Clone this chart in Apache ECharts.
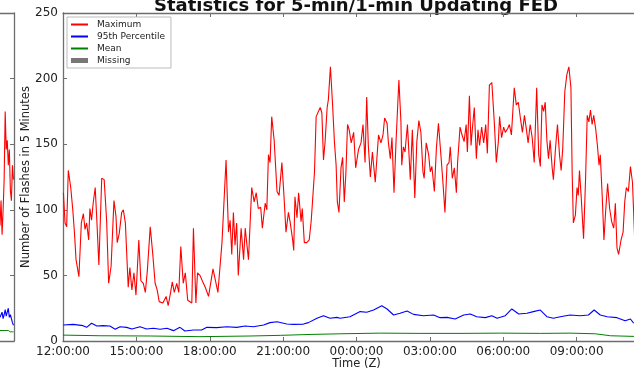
<!DOCTYPE html>
<html><head><meta charset="utf-8">
<script src="https://cdn.jsdelivr.net/npm/echarts@6/dist/echarts.min.js"></script>
<style>html,body{margin:0;padding:0;background:#fff}#c{width:634px;height:370px}</style>
</head><body><div id="c"></div>
<script>
// ---- data (minutes after 12:00Z) ----
const xTickLabels = ['12:00:00','15:00:00','18:00:00','21:00:00','00:00:00','03:00:00','06:00:00','09:00:00','12:00:00'];
const yTicks = [0, 50, 100, 150, 200, 250];
const seriesNames = ['Maximum', '95th Percentile', 'Mean', 'Missing'];

const maxMinutes = [1,5,9,13,19,24,28,32,39,45,50,54,58,63,66,70,74,79,83,88,95,101,107,112,118,125,130,133,138,144,148,153,160,164,169,174,179,186,191,197,202,207,214,220,226,231,236,245,253,258,264,268,273,279,284,289,295,300,306,316,320,326,330,336,343,349,357,368,380,390,400,406,410,414,418,422,426,430,437,443,447,455,463,469,474,479,485,489,496,500,504,508,512,518,525,530,537,542,547,553,557,563,566,569,574,578,584,587,592,598,604,609,612,617,621,625,631,635,639,643,648,651,656,661,666,670,673,677,682,686,690,694,698,702,707,713,718,725,731,736,741,745,749,754,759,766,774,780,785,789,795,798,803,807,812,817,824,829,831,835,839,845,852,857,863,868,873,878,883,886,891,897,901,905,911,916,921,927,932,937,942,947,950,955,960,965,968,974,979,984,989,992,997,1001,1004,1009,1014,1018,1022,1027,1032,1037,1041,1046,1052,1058,1063,1068,1071,1076,1081,1085,1091,1095,1100,1107,1112,1117,1122,1127,1132,1136,1141,1146,1151,1156,1162,1167,1171,1175,1179,1183,1187,1191,1195,1200,1203,1208,1213,1218,1222,1226,1231,1236,1241,1246,1249,1252,1257,1261,1264,1267,1271,1277,1282,1286,1290,1294,1298,1302,1307,1311,1315,1318,1323,1327,1331,1336,1341,1346,1351,1355,1359,1363,1369,1374,1378,1382,1387,1392,1397,1402];
const maxValues = [113,90,87,130,117,100,83,62,49,90,97,85,90,77,101,92,105,117,92,58,124,123,92,44,57,107,95,75,82,98,100,90,41,56,39,52,35,77,46,44,37,54,87,67,44,39,30,29,34,27,37,45,37,44,37,72,44,52,31,29,86,29,52,50,45,41,34,55,37,75,138,83,92,66,98,73,90,50,86,62,86,62,117,106,113,101,102,86,105,100,142,136,171,153,114,111,136,111,83,98,91,78,69,110,94,113,91,101,75,75,77,92,106,129,171,170,178,174,138,152,178,184,209,182,151,134,106,98,132,140,106,128,165,161,151,159,132,146,151,165,136,186,149,125,144,121,157,151,157,170,166,152,139,155,113,152,199,167,134,148,144,165,123,161,109,152,168,159,129,124,151,142,129,133,114,147,166,142,121,98,134,136,148,124,132,113,136,163,157,152,165,144,187,149,161,178,139,161,149,163,151,165,143,195,197,167,136,152,171,155,163,159,162,165,157,193,180,182,170,159,172,163,151,165,155,136,193,142,133,180,175,182,153,139,153,132,123,146,165,142,130,147,190,203,209,193,129,90,96,117,111,130,111,78,124,172,167,176,165,172,161,149,134,142,109,77,98,120,101,91,86,105,71,66,77,83,106,117,114,133,121,81];

const p95Minutes = [1,25,49,58,70,83,98,115,128,140,156,169,189,205,222,238,255,271,287,299,320,340,353,377,402,426,447,467,492,508,525,549,565,590,602,623,639,655,672,680,704,729,745,762,782,795,811,827,844,860,884,909,925,942,962,983,999,1015,1036,1052,1065,1085,1101,1118,1138,1154,1171,1187,1203,1220,1244,1269,1289,1303,1318,1335,1359,1379,1392,1400];
const p95Values = [12.2,12.7,11.7,10.4,13.5,11.4,11.7,11.4,8.9,10.9,10.4,9.1,10.9,9.1,9.7,8.9,9.7,7.9,10.4,7.6,8.4,8.4,10.4,10.2,10.9,10.4,11.4,10.9,12.2,14,14.7,12.9,12.7,12.9,14,17.3,19.3,17.3,18,17.3,18.5,22.4,21.9,23.6,26.9,24.4,19.8,21.1,22.9,20.3,19.3,19.8,17.8,18,16.8,19.8,20.6,18.5,17.8,19.3,17.3,19.3,24.4,20.6,21.1,22.4,23.6,18.5,17.3,18.5,19.8,19.3,19.8,23.6,19.8,18.5,17.8,15.5,16.8,13.5];

const meanMinutes = [0,91,214,336,459,533,606,680,778,876,974,1073,1171,1244,1306,1343,1402];
const meanValues = [4.5,4,3.8,3.3,3.8,4.3,5,5.5,6,5.8,5.8,6,5.8,6,5.5,4,3.5];

// neighbouring (cropped) panel at the far left: last few samples
const leftSteps = [0,1,2,3,4,5,6,7,8,9,10,11,12,13];
const leftMax = [88,107,81,100,123,175,146,153,134,146,115,107,134,123];
const leftP95 = [18,20,22,17,20,24,19,18,25,18,20,20,14,12];
const leftMean = [8,8,8,8,8,8,8,8,8,8,7,7,7,7];

const zip = (a, b) => a.map((v, i) => [v, b[i]]);
const FONT = 'DejaVu Sans';
const SPINE = '#6e6e6e';
const TXT = '#222';

const chart = echarts.init(document.getElementById('c'), null, {renderer: 'canvas'});
const spineAxis = (extra) => Object.assign({
  type: 'value',
  axisLine: {show: true, onZero: false, lineStyle: {color: SPINE, width: 1.3}},
  axisTick: {show: true, inside: true, length: 4, lineStyle: {color: SPINE, width: 1}},
  axisLabel: {show: false},
  splitLine: {show: false}
}, extra);

chart.setOption({
  animation: false,
  backgroundColor: '#fff',
  graphic: [{
    type: 'text', x: 356, y: 6,
    style: {text: 'Statistics for 5-min/1-min Updating FED', fill: '#111',
      font: 'bold 18px "DejaVu Sans"', align: 'center', verticalAlign: 'middle'}
  }],
  legend: {
    data: [
      {name: seriesNames[0], itemStyle: {opacity: 0}},
      {name: seriesNames[1], itemStyle: {opacity: 0}},
      {name: seriesNames[2], itemStyle: {opacity: 0}},
      {name: seriesNames[3], icon: 'rect'}
    ],
    orient: 'vertical', left: 67, top: 17,
    itemWidth: 17, itemHeight: 5, itemGap: 3,
    padding: [3, 6, 3, 3],
    backgroundColor: '#fff', borderColor: '#bbb', borderWidth: 1, borderRadius: 0,
    selectedMode: false,
    textStyle: {fontFamily: FONT, fontSize: 9, color: TXT, padding: [0, 0, 0, 4]}
  },
  grid: [
    {left: 63, top: 13, width: 587, height: 328, outerBoundsMode: 'none', containLabel: false},
    {left: 0, top: 13, width: 14, height: 328, outerBoundsMode: 'none', containLabel: false}
  ],
  xAxis: [
    spineAxis({gridIndex: 0, position: 'bottom', min: 0, max: 1440, interval: 180,
      axisLabel: {show: true, showMaxLabel: false, fontFamily: FONT, fontSize: 12, color: TXT, margin: 5,
        formatter: v => xTickLabels[Math.round(v / 180)]},
      name: 'Time (Z)', nameLocation: 'middle', nameGap: 17, nameMoveOverlap: false,
      nameTextStyle: {fontFamily: FONT, fontSize: 11.5, color: TXT}}),
    spineAxis({gridIndex: 0, position: 'top', min: 0, max: 1440, interval: 180}),
    spineAxis({gridIndex: 1, position: 'bottom', min: 0, max: 13.5, axisTick: {show: false}}),
    spineAxis({gridIndex: 1, position: 'top', min: 0, max: 13.5, axisTick: {show: false}})
  ],
  yAxis: [
    spineAxis({gridIndex: 0, position: 'left', min: yTicks[0], max: yTicks[yTicks.length - 1], interval: 50,
      axisLabel: {show: true, fontFamily: FONT, fontSize: 12, color: TXT, margin: 5},
      name: 'Number of Flashes in 5 Minutes', nameLocation: 'middle', nameGap: 31, nameMoveOverlap: false,
      nameTextStyle: {fontFamily: FONT, fontSize: 11.5, color: TXT}}),
    spineAxis({gridIndex: 0, position: 'right', min: 0, max: 250, interval: 50}),
    spineAxis({gridIndex: 1, position: 'right', min: 0, max: 250, interval: 50}),
    spineAxis({gridIndex: 1, position: 'left', min: 0, max: 250, interval: 50, axisLine: {show: false}, axisTick: {show: false}})
  ],
  series: [
    {name: seriesNames[0], type: 'line', xAxisIndex: 0, yAxisIndex: 0, data: zip(maxMinutes, maxValues),
      symbol: 'none', lineStyle: {color: '#ff0000', width: 1.1}, itemStyle: {color: '#ff0000'}, z: 3},
    {name: seriesNames[1], type: 'line', xAxisIndex: 0, yAxisIndex: 0, data: zip(p95Minutes, p95Values),
      symbol: 'none', lineStyle: {color: '#0000ff', width: 1.1}, itemStyle: {color: '#0000ff'}, z: 3},
    {name: seriesNames[2], type: 'line', xAxisIndex: 0, yAxisIndex: 0, data: zip(meanMinutes, meanValues),
      symbol: 'none', lineStyle: {color: '#008000', width: 1}, itemStyle: {color: '#008000'}, z: 3},
    {name: seriesNames[3], type: 'bar', xAxisIndex: 0, yAxisIndex: 0, data: [], itemStyle: {color: '#777'}},
    {name: 'leftMax', type: 'line', xAxisIndex: 2, yAxisIndex: 2, data: zip(leftSteps, leftMax),
      symbol: 'none', lineStyle: {color: '#ff0000', width: 1.1}},
    {name: 'leftP95', type: 'line', xAxisIndex: 2, yAxisIndex: 2, data: zip(leftSteps, leftP95),
      symbol: 'none', lineStyle: {color: '#0000ff', width: 1.1}},
    {name: 'leftMean', type: 'line', xAxisIndex: 2, yAxisIndex: 2, data: zip(leftSteps, leftMean),
      symbol: 'none', lineStyle: {color: '#008000', width: 1}}
  ]
});
</script>
</body></html>
